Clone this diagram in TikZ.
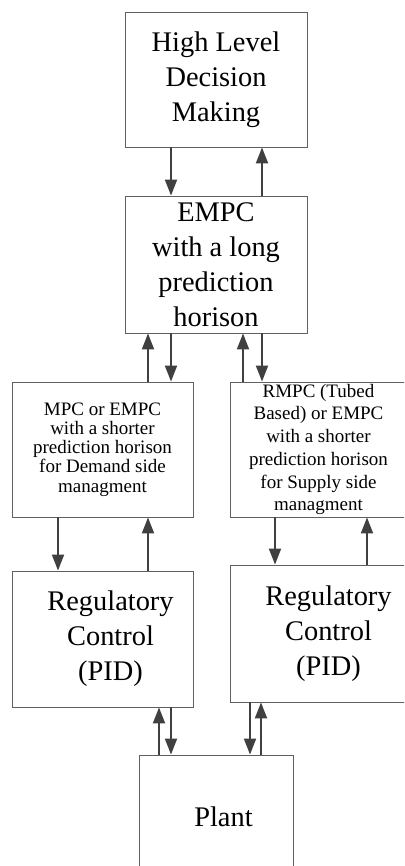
\documentclass[tikz,border=0pt]{standalone}
\usepackage{fontspec}
\setmainfont{Liberation Serif}
\usetikzlibrary{arrows.meta}
\definecolor{boxgray}{HTML}{606060}
\definecolor{arrgray}{HTML}{404040}
\begin{document}
\begin{tikzpicture}[x=1pt,y=-1pt,
  box/.style={draw=boxgray, line width=0.9pt, inner sep=0pt, align=center,
    font=\fontsize{28.4}{35}\selectfont},
  smallA/.style={font=\fontsize{19}{19.2}\selectfont},
  smallB/.style={font=\fontsize{19}{22.7}\selectfont},
  lbl/.style={inner sep=0pt, align=center, font=\fontsize{28.4}{35}\selectfont},
  arr/.style={draw=arrgray, line width=2pt, -{Triangle[length=16pt,width=12pt]}},
]
\useasboundingbox (0,0) rectangle (404,866);
\clip (0,0) rectangle (404,866);

\node[box, minimum width=182pt, minimum height=135pt] (hl) at (216,79.5)
  {High Level\\Decision\\Making};
\node[box, minimum width=182pt, minimum height=137pt] (empc) at (216,264.5)
  {EMPC\\with a long\\prediction\\horison};
\node[box, smallA, minimum width=181pt, minimum height=135pt] (mpcl) at (102.5,449.5)
  {MPC or EMPC\\with a shorter\\prediction horison\\for Demand side\\managment};
\node[box, smallB, minimum width=177pt, minimum height=135pt] (mpcr) at (318.5,449.5)
  {RMPC (Tubed\\Based) or EMPC\\with a shorter\\prediction horison\\for Supply side\\managment};
\node[box, minimum width=181pt, minimum height=136pt,
  label={[lbl, xshift=8pt]center:{Regulatory\\Control\\(PID)}}] (regl) at (102.5,639) {};
\node[box, minimum width=177pt, minimum height=137pt,
  label={[lbl, xshift=10pt]center:{Regulatory\\Control\\(PID)}}] (regr) at (318.5,633.5) {};
\node[box, minimum width=154pt, minimum height=124pt,
  label={[lbl, xshift=7.5pt]center:{Plant}}] (plant) at (216,817) {};

\coordinate (x58) at (58,0);
\coordinate (x148) at (148,0);
\coordinate (x159) at (159,0);
\coordinate (x171) at (171,0);
\coordinate (x243) at (243,0);
\coordinate (x250) at (250,0);
\coordinate (x261) at (261,0);
\coordinate (x262) at (262,0);
\coordinate (x275) at (275,0);
\coordinate (x367) at (367,0);

\draw[arr] (hl.south -| x171) -- (empc.north -| x171);
\draw[arr] (empc.north -| x262) -- (hl.south -| x262);

\draw[arr] (mpcl.north -| x148) -- (empc.south -| x148);
\draw[arr] (empc.south -| x171) -- (mpcl.north -| x171);
\draw[arr] (mpcr.north -| x243) -- (empc.south -| x243);
\draw[arr] (empc.south -| x262) -- (mpcr.north -| x262);

\draw[arr] (mpcl.south -| x58) -- (regl.north -| x58);
\draw[arr] (regl.north -| x148) -- (mpcl.south -| x148);
\draw[arr] (mpcr.south -| x275) -- (regr.north -| x275);
\draw[arr] (regr.north -| x367) -- (mpcr.south -| x367);

\draw[arr] (plant.north -| x159) -- (regl.south -| x159);
\draw[arr] (regl.south -| x171) -- (plant.north -| x171);
\draw[arr] (regr.south -| x250) -- (plant.north -| x250);
\draw[arr] (plant.north -| x261) -- (regr.south -| x261);
\end{tikzpicture}
\end{document}
